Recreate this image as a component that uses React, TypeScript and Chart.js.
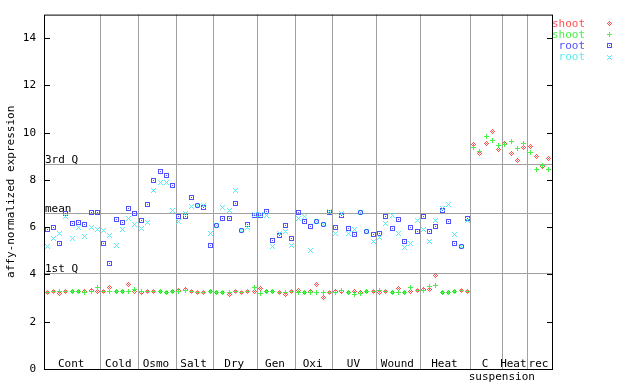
import React, { useEffect, useRef } from 'react';
import { Chart, registerables } from 'chart.js';

Chart.register(...registerables);

const FONT = '"DejaVu Sans Mono", "Liberation Mono", monospace';

const groupLabels = ['Cont', 'Cold', 'Osmo', 'Salt', 'Dry', 'Gen', 'Oxi', 'UV', 'Wound', 'Heat', 'C', 'Heat', 'rec'];
const groupSizes = [9, 6, 6, 6, 7, 6, 6, 7, 7, 8, 5, 4, 4];
const suspensionLabel = 'suspension';
const yTickValues = [0, 2, 4, 6, 8, 10, 12, 14];
const yTitle = 'affy-normalized expression';
const quartileNames = ['3rd Q', 'mean', '1st Q'];
const quartileValues = [8.68, 6.61, 4.08];
const legendNames = ['shoot', 'shoot', 'root', 'root'];
const seriesColors = ['rgb(255,80,80)', 'rgb(72,240,72)', 'rgb(80,80,255)', 'rgb(90,238,238)'];

const shootRed = [
  3.24, 3.26, 3.19, 3.26, 3.30, 3.26, 3.26, 3.33, 3.29,
  3.26, 3.43, 3.26, 3.29, 3.56, 3.26,
  3.24, 3.29, 3.26, 3.26, 3.24, 3.29,
  3.33, 3.36, 3.26, 3.24, 3.24, 3.26,
  3.24, 3.22, 3.17, 3.29, 3.24, 3.30, 3.26,
  3.40, 3.26, 3.26, 3.24, 3.15, 3.26,
  3.33, 3.24, 3.26, 3.58, 3.02, 3.22,
  3.26, 3.30, 3.24, 3.26, 3.22, 3.30, 3.29,
  3.24, 3.29, 3.24, 3.40, 3.24, 3.29, 3.33,
  3.36, 3.36, 3.96, 3.24, 3.24, 3.29, 3.33, 3.26,
  9.52, 9.10, 9.56, 10.04, 9.27,
  9.56, 9.14, 8.84, 9.39,
  9.43, 9.01, 8.59, 8.93,
];

const shootGreen = [
  3.24, 3.26, 3.30, 3.28, 3.30, 3.26, 3.22, 3.30, 3.45,
  3.26, 3.26, 3.26, 3.29, 3.26, 3.36,
  3.26, 3.26, 3.26, 3.26, 3.22, 3.26,
  3.30, 3.33, 3.26, 3.22, 3.22, 3.26,
  3.24, 3.22, 3.22, 3.26, 3.24, 3.30, 3.44,
  3.21, 3.26, 3.26, 3.24, 3.24, 3.26,
  3.24, 3.24, 3.24, 3.24, 3.24, 3.24,
  3.22, 3.33, 3.24, 3.15, 3.19, 3.30, 3.29,
  3.33, 3.29, 3.24, 3.24, 3.24, 3.44, 3.33,
  3.31, 3.50, 3.54, 3.24, 3.24, 3.26, 3.33, 3.26,
  9.38, 9.19, 9.83, 9.66, 9.45,
  9.49, 9.62, 9.35, 9.56,
  9.18, 8.46, 8.63, 8.46,
];

const rootBlue = [
  5.89, 5.97, 5.30, 6.57, 6.14, 6.20, 6.10, 6.61, 6.61,
  5.30, 4.46, 6.31, 6.19, 6.78, 6.57,
  6.27, 6.96, 7.96, 8.34, 8.17, 7.75,
  6.44, 6.44, 7.24, 6.93, 6.82, 5.22,
  6.09, 6.36, 6.36, 6.99, 5.88, 6.10, 6.51,
  6.48, 6.65, 5.43, 5.64, 6.06, 5.51,
  6.61, 6.23, 6.02, 6.23, 6.13, 6.61,
  5.97, 6.48, 5.93, 5.68, 6.61, 5.81, 5.68,
  5.72, 6.44, 5.93, 6.31, 5.39, 5.97, 5.81,
  6.44, 5.82, 6.02, 6.71, 6.23, 5.30, 5.18, 6.36,
  null, null, null, null, null,
  null, null, null, null,
  null, null, null, null,
];

const rootCyan = [
  5.19, 5.51, 5.72, 6.45, 5.51, 6.00, 5.60, 5.97, 5.89,
  5.86, 5.64, 5.22, 5.89, 6.36, 6.10,
  5.93, 6.19, 7.54, 7.89, 7.91, 6.69,
  6.23, 6.57, 6.86, 6.93, 6.90, 5.72,
  6.06, 6.82, 6.69, 7.54, 5.88, 6.00, 6.54,
  6.54, 6.48, 5.17, 5.72, 5.83, 5.22,
  6.36, 6.44, 5.03, 6.23, 6.13, 6.68,
  5.75, 6.57, 5.72, 5.89, 6.61, 5.81, 5.39,
  5.58, 6.14, 6.48, 5.72, 5.16, 5.30, 6.28,
  5.89, 5.39, 6.27, 6.78, 6.95, 5.68, 5.18, 6.27,
  null, null, null, null, null,
  null, null, null, null,
  null, null, null, null,
];

type Kind = 'diamond' | 'plus' | 'square' | 'x';

function makeMarker(color: string, kind: Kind): HTMLCanvasElement {
  const c = document.createElement('canvas');
  c.width = 5;
  c.height = 5;
  const g = c.getContext('2d')!;
  g.fillStyle = color;
  for (let yy = 0; yy < 5; yy++) {
    for (let xx = 0; xx < 5; xx++) {
      const dx = xx - 2;
      const dy = yy - 2;
      let on = false;
      if (kind === 'diamond') on = Math.abs(dx) + Math.abs(dy) === 2 || (dx === 0 && dy === 0);
      if (kind === 'plus') on = dx === 0 || dy === 0;
      if (kind === 'square') on = Math.abs(dx) === 2 || Math.abs(dy) === 2 || (dx === 0 && dy === 0);
      if (kind === 'x') on = Math.abs(dx) === Math.abs(dy);
      if (on) g.fillRect(xx, yy, 1, 1);
    }
  }
  return c;
}

function toPoints(arr: (number | null)[]) {
  const out: { x: number; y: number }[] = [];
  arr.forEach((v, i) => {
    if (v !== null && v !== undefined) out.push({ x: i, y: v });
  });
  return out;
}

export default function App() {
  const ref = useRef<HTMLCanvasElement>(null);

  useEffect(() => {
    document.body.style.margin = '0';
    const kinds: Kind[] = ['diamond', 'plus', 'square', 'x'];
    const markers = kinds.map((k, i) => makeMarker(seriesColors[i], k));
    const seriesData = [shootRed, shootGreen, rootBlue, rootCyan];

    const gnuplotPlugin = {
      id: 'gnuplotDecor',
      beforeDatasetsDraw(chart: any) {
        const { ctx, chartArea, scales } = chart;
        const { left, right, top, bottom } = chartArea;
        const x = scales.x;
        const y = scales.y;
        ctx.save();
        ctx.strokeStyle = '#a0a0a0';
        ctx.lineWidth = 1;
        let cum = 0;
        for (let g = 0; g < groupSizes.length - 1; g++) {
          cum += groupSizes[g];
          const px = Math.round(x.getPixelForValue(cum - 0.5)) + 0.5;
          ctx.beginPath();
          ctx.moveTo(px, top);
          ctx.lineTo(px, bottom);
          ctx.stroke();
        }
        quartileValues.forEach((v) => {
          const py = Math.round(y.getPixelForValue(v)) + 0.5;
          ctx.beginPath();
          ctx.moveTo(left, py);
          ctx.lineTo(right, py);
          ctx.stroke();
        });
        // quartile labels
        ctx.fillStyle = '#000';
        ctx.font = `11px ${FONT}`;
        ctx.textAlign = 'left';
        ctx.textBaseline = 'alphabetic';
        quartileValues.forEach((v, i) => {
          const py = Math.round(y.getPixelForValue(v));
          ctx.fillText(quartileNames[i], left + 1, py - 1);
        });
        // group labels
        ctx.textAlign = 'center';
        let start = 0;
        groupSizes.forEach((n, i) => {
          const c = (start - 0.5 + start + n - 0.5) / 2;
          const px = x.getPixelForValue(c) - 1;
          ctx.fillText(groupLabels[i], px, bottom - 2);
          start += n;
        });
        const sx = x.getPixelForValue(72.5);
        ctx.fillText(suspensionLabel, sx, bottom + 11);
        ctx.restore();
        ctx.imageSmoothingEnabled = false;
      },
      afterDraw(chart: any) {
        const { ctx, chartArea, scales } = chart;
        const { left, right, top, bottom } = chartArea;
        const y = scales.y;
        ctx.save();
        ctx.strokeStyle = '#000';
        ctx.lineWidth = 1;
        ctx.strokeRect(left + 0.5, top + 0.5, right - left, bottom - top);
        yTickValues.forEach((v) => {
          const py = Math.round(y.getPixelForValue(v)) + 0.5;
          ctx.beginPath();
          ctx.moveTo(left, py);
          ctx.lineTo(left + 6, py);
          ctx.moveTo(right + 1, py);
          ctx.lineTo(right - 5, py);
          ctx.stroke();
        });
        // legend
        ctx.font = `11px ${FONT}`;
        ctx.textAlign = 'right';
        ctx.textBaseline = 'alphabetic';
        ctx.imageSmoothingEnabled = false;
        legendNames.forEach((name, i) => {
          const rowY = 23 + i * 11.2;
          ctx.fillStyle = seriesColors[i];
          ctx.fillText(name, 585, rowY + 3.5);
          ctx.drawImage(markers[i], 607, Math.round(rowY) - 2);
        });
        ctx.restore();
      },
    };

    const chart = new Chart(ref.current!, {
      type: 'scatter',
      data: {
        datasets: seriesData.map((arr, i) => ({
          label: legendNames[i],
          data: toPoints(arr),
          pointStyle: markers[i] as any,
          pointRadius: 3,
          showLine: false,
          order: 3 - i,
          backgroundColor: seriesColors[i],
          borderColor: seriesColors[i],
        })),
      },
      options: {
        animation: false,
        responsive: false,
        devicePixelRatio: 1,
        events: [],
        layout: { padding: { top: 13, right: 88, bottom: 15, left: 0 } },
        plugins: { legend: { display: false }, tooltip: { enabled: false } },
        scales: {
          x: { type: 'linear', min: -0.5, max: 80.5, display: false },
          y: {
            type: 'linear',
            min: 0,
            max: 15,
            afterFit: (s: any) => {
              s.width = 44;
            },
            afterBuildTicks: (s: any) => {
              s.ticks = yTickValues.map((v) => ({ value: v }));
            },
            grid: { display: false, drawTicks: false },
            border: { display: false },
            ticks: {
              padding: 8,
              color: '#000',
              font: { family: FONT, size: 11 },
            },
            title: {
              display: true,
              text: yTitle,
              color: '#000',
              font: { family: FONT, size: 11 },
              padding: { top: 5, bottom: 0 },
            },
          },
        },
      },
      plugins: [gnuplotPlugin],
    } as any);

    return () => chart.destroy();
  }, []);

  return <canvas ref={ref} width={640} height={384} style={{ display: 'block' }} />;
}
